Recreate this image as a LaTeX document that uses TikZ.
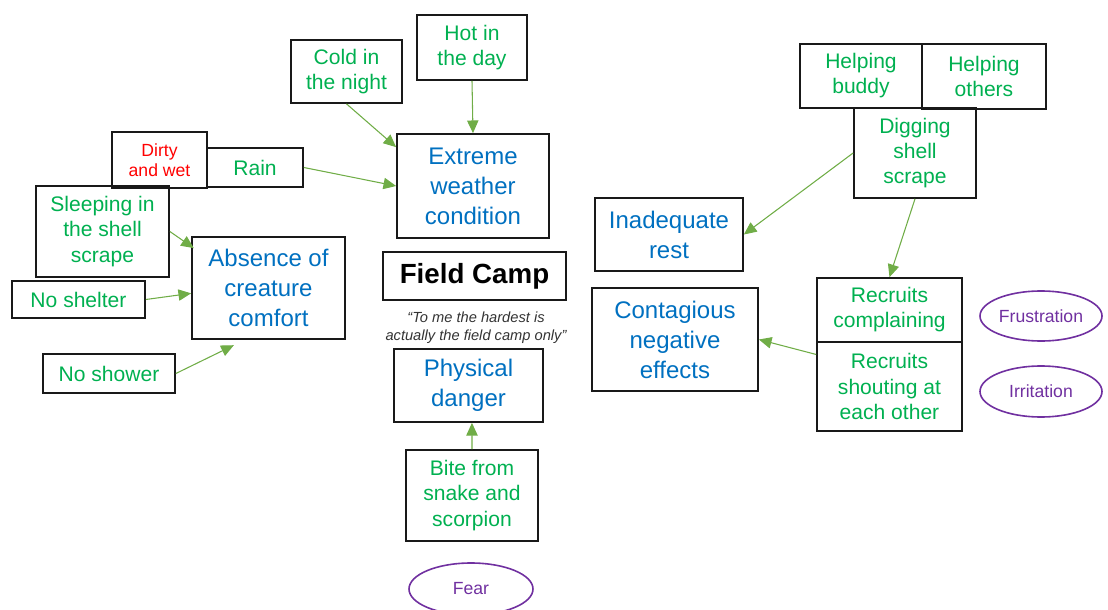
\documentclass[tikz,border=0pt]{standalone}
\usepackage{fontspec}
\setmainfont{Liberation Sans}
\usetikzlibrary{shapes.geometric,arrows.meta}
\definecolor{tgreen}{HTML}{00B050}
\definecolor{tblue}{HTML}{0070C0}
\definecolor{tred}{HTML}{FF0000}
\definecolor{tpurple}{HTML}{7030A0}
\definecolor{agreen}{HTML}{70AD47}
\tikzset{
  sz/.style args={#1/#2}{minimum width=#1*0.75pt, minimum height=#2*0.75pt},
  box/.style={draw=black!90, line width=1.3pt, inner sep=0pt, align=center},
  gtxt/.style={box, text=tgreen, font=\fontsize{15.8}{18.8}\selectfont},
  btxt/.style={box, text=tblue, font=\fontsize{18}{22.5}\selectfont},
  rtxt/.style={box, text=tred, font=\fontsize{13.2}{15}\selectfont},
  emo/.style={ellipse, draw=tpurple, line width=1.2pt, text=tpurple, inner sep=0pt, font=\fontsize{13.2}{15}\selectfont},
  arr/.style={draw=agreen, line width=0.8pt, -{Triangle[length=9.5pt,width=8.5pt]}},
}
\begin{document}
\begin{tikzpicture}[x=0.75pt,y=-0.75pt]
\useasboundingbox (0,0) rectangle (1108,610);
% left group
\node[gtxt, sz=111/63] (cold) at (346.5,71.5) {Cold in\\the night};
\node[gtxt, sz=110/65] (hot) at (472,47.5) {Hot in\\the day};
\node[btxt, sz=152/104] (extreme) at (473,186) {Extreme\\weather\\condition};
\node[gtxt, sz=96/39] (rain) at (255,167.5) {Rain};
\node[rtxt, sz=95/56] (dirty) at (159.5,160) {Dirty\\and wet};
\node[gtxt, sz=133/91] (sleep) at (102.5,231.5) {Sleeping in\\the shell\\scrape};
\node[gtxt, sz=133/37] (shelter) at (78.5,299.5) {No shelter};
\node[btxt, sz=153/102] (absence) at (268.5,288) {Absence of\\creature\\comfort};
\node[gtxt, sz=132/39] (shower) at (109,373.5) {No shower};
% centre
\node[box, sz=183/48, font=\fontsize{20.8}{24}\selectfont\bfseries] (camp) at (474.5,276) {Field Camp};
\node[align=center, inner sep=0pt, text=black!80, font=\fontsize{11}{13.5}\selectfont\itshape] (quote) at (476,328) {“To me the hardest is\\actually the field camp only”};
\node[btxt, sz=149/73] (physical) at (468.5,385.5) {Physical\\danger};
\node[gtxt, sz=132/91] (bite) at (472,495.5) {Bite from\\snake and\\scorpion};
\node[emo, sz=124/52] (fear) at (471,589) {Fear};
% right group
\node[gtxt, sz=122/64] (buddy) at (861,76) {Helping\\buddy};
\node[gtxt, sz=124/65] (others) at (984,76.5) {Helping\\others};
\node[gtxt, sz=122/90] (digging) at (915,153) {Digging\\shell\\scrape};
\node[btxt, sz=148/73] (rest) at (669,234.5) {Inadequate\\rest};
\node[btxt, sz=166/103] (contagious) at (675,339.5) {Contagious\\negative\\effects};
\node[gtxt, sz=145/64] (complain) at (889.5,310) {Recruits\\complaining};
\node[gtxt, sz=145/89] (shout) at (889.5,386.5) {Recruits\\shouting at\\each other};
\node[emo, sz=122/50] (frustration) at (1041,316) {Frustration};
\node[emo, sz=122/51] (irritation) at (1041,391.5) {Irritation};
% connectors
\draw[arr] (cold.south) -- ([yshift=-10.5pt]extreme.north west);
\draw[arr] (hot.south) -- (extreme.north);
\draw[arr] (rain.east) -- (extreme.west);
\draw[arr] (sleep.east) -- ([xshift=2pt,yshift=-9pt]absence.north west);
\draw[arr] (shelter.east) -- ([yshift=-4pt]absence.west);
\draw[arr] (shower.east) -- ([xshift=-26pt,yshift=-4pt]absence.south);
\draw[arr] (bite.north) -- ([xshift=2.6pt]physical.south);
\draw[arr] (digging.west) -- (rest.east);
\draw[arr] (digging.south) -- (complain.north);
\draw[arr] ([yshift=-10pt]shout.north west) -- (contagious.east);
\end{tikzpicture}
\end{document}
